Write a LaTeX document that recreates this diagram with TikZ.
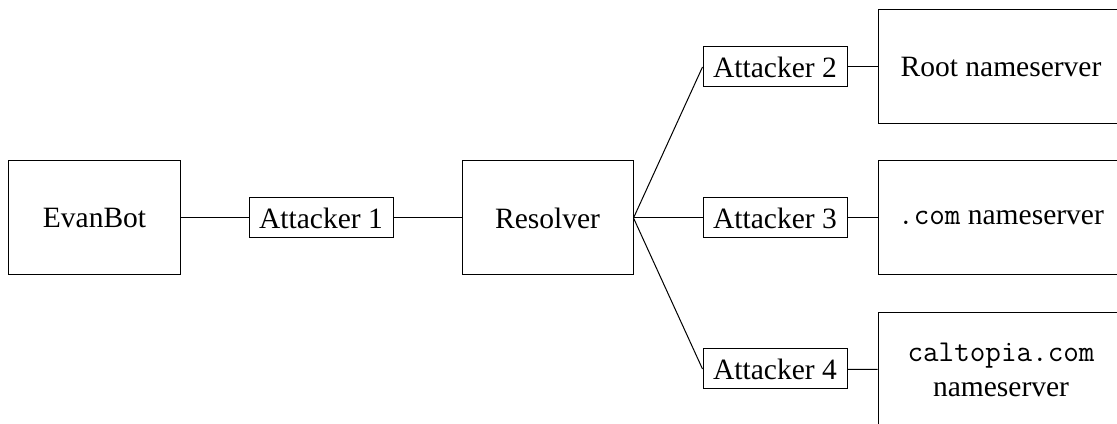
\documentclass[tikz,border=0pt]{standalone}
\usepackage{fontspec}
\setmainfont{Liberation Serif}
\newcommand{\monotxt}[1]{{\fontsize{12.1}{14}\selectfont\ttfamily #1}}
\begin{document}
\begin{tikzpicture}[x=0.4pt,y=-0.4pt,
  font=\fontsize{11.8}{14}\selectfont,
  bigbox/.style={draw,minimum width=68.4pt,minimum height=45.6pt,inner sep=0pt},
  widebox/.style={draw,minimum width=98.4pt,minimum height=45.6pt,inner sep=0pt,align=center},
  atk/.style={draw,minimum width=57.6pt,minimum height=16pt,inner sep=0pt}]
\useasboundingbox (0,0) rectangle (1117,424);
\clip (0,0) rectangle (1117,424);
\node[bigbox] (evan) at (94.5,218) {EvanBot};
\node[atk] (a1) at (321,218) {Attacker 1};
\node[bigbox] (res) at (547.5,218) {Resolver};
\node[atk] (a2) at (775,67) {Attacker 2};
\node[atk] (a3) at (775,218) {Attacker 3};
\node[atk] (a4) at (775,369) {Attacker 4};
\node[widebox] (root) at (1001,67) {Root nameserver};
\node[widebox] (com) at (1001,218) {\monotxt{.com} nameserver};
\node[widebox] (cal) at (1001,370) {\monotxt{caltopia.com}\\nameserver};
\draw (evan) -- (a1) -- (res);
\draw (res.east) -- (a2.west);
\draw (res.east) -- (a3.west);
\draw (res.east) -- (a4.west);
\draw (a2) -- (root);
\draw (a3) -- (com);
\draw (a4) -- (cal);
\end{tikzpicture}
\end{document}
